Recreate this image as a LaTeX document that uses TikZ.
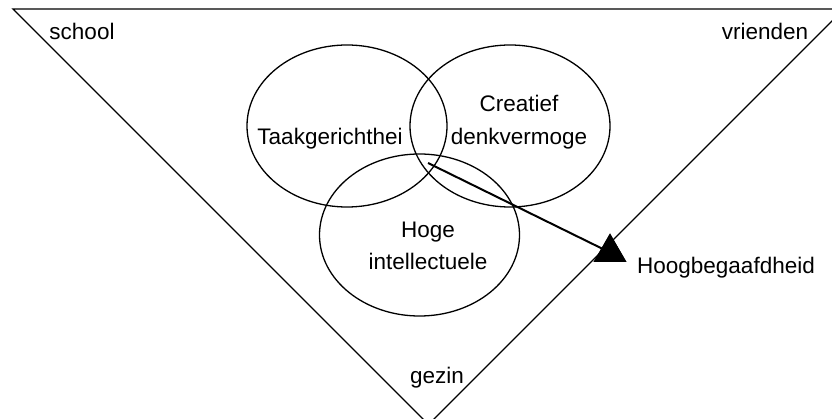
\documentclass[tikz,border=0pt]{standalone}
\usepackage{fontspec}
\setmainfont{Liberation Sans}
\usetikzlibrary{shapes.geometric}
\begin{document}
\begin{tikzpicture}[x=1pt,y=-1pt,
  lbl/.style={font=\fontsize{22.5}{32.5}\selectfont, inner sep=0pt, anchor=base, align=center},
  venn/.style={draw, ellipse, line width=1.3pt, minimum width=200pt, minimum height=162pt, inner sep=0pt},
  frame/.style={line width=1.4pt, line join=miter},
  link/.style={line width=2pt},
  head/.style={fill=black, regular polygon, regular polygon sides=3, minimum size=38pt, inner sep=0pt}]
\useasboundingbox (0,0) rectangle (832,419);
\coordinate (tl) at (13,9);
\coordinate (tr) at (844,9);
\coordinate (bt) at (428.5,424.5);
\draw[frame] (tl) -- (tr) -- (bt) -- cycle;
\node[venn] (e1) at (347,126) {};
\node[venn] (e2) at (510,126) {};
\node[venn] (e3) at (419.5,235) {};
\node[lbl] (t1) at (330,145) {Taakgerichthei};
\node[lbl] (t2) at (519,144.5) {Creatief\\denkvermoge};
\node[lbl] (t3) at (428,270) {Hoge\\intellectuele};
\node[lbl] (school) at (82,40) {school};
\node[lbl] (vrienden) at (765,40) {vrienden};
\node[lbl] (gezin) at (437,383) {gezin};
\node[lbl] (hb) at (726,274) {Hoogbegaafdheid};
\coordinate (start) at (428,163);
\node[head] (tri) at (610,252.5) {};
\draw[link] (start) -- (tri.center);
\node[head] at (tri) {};
\end{tikzpicture}
\end{document}
